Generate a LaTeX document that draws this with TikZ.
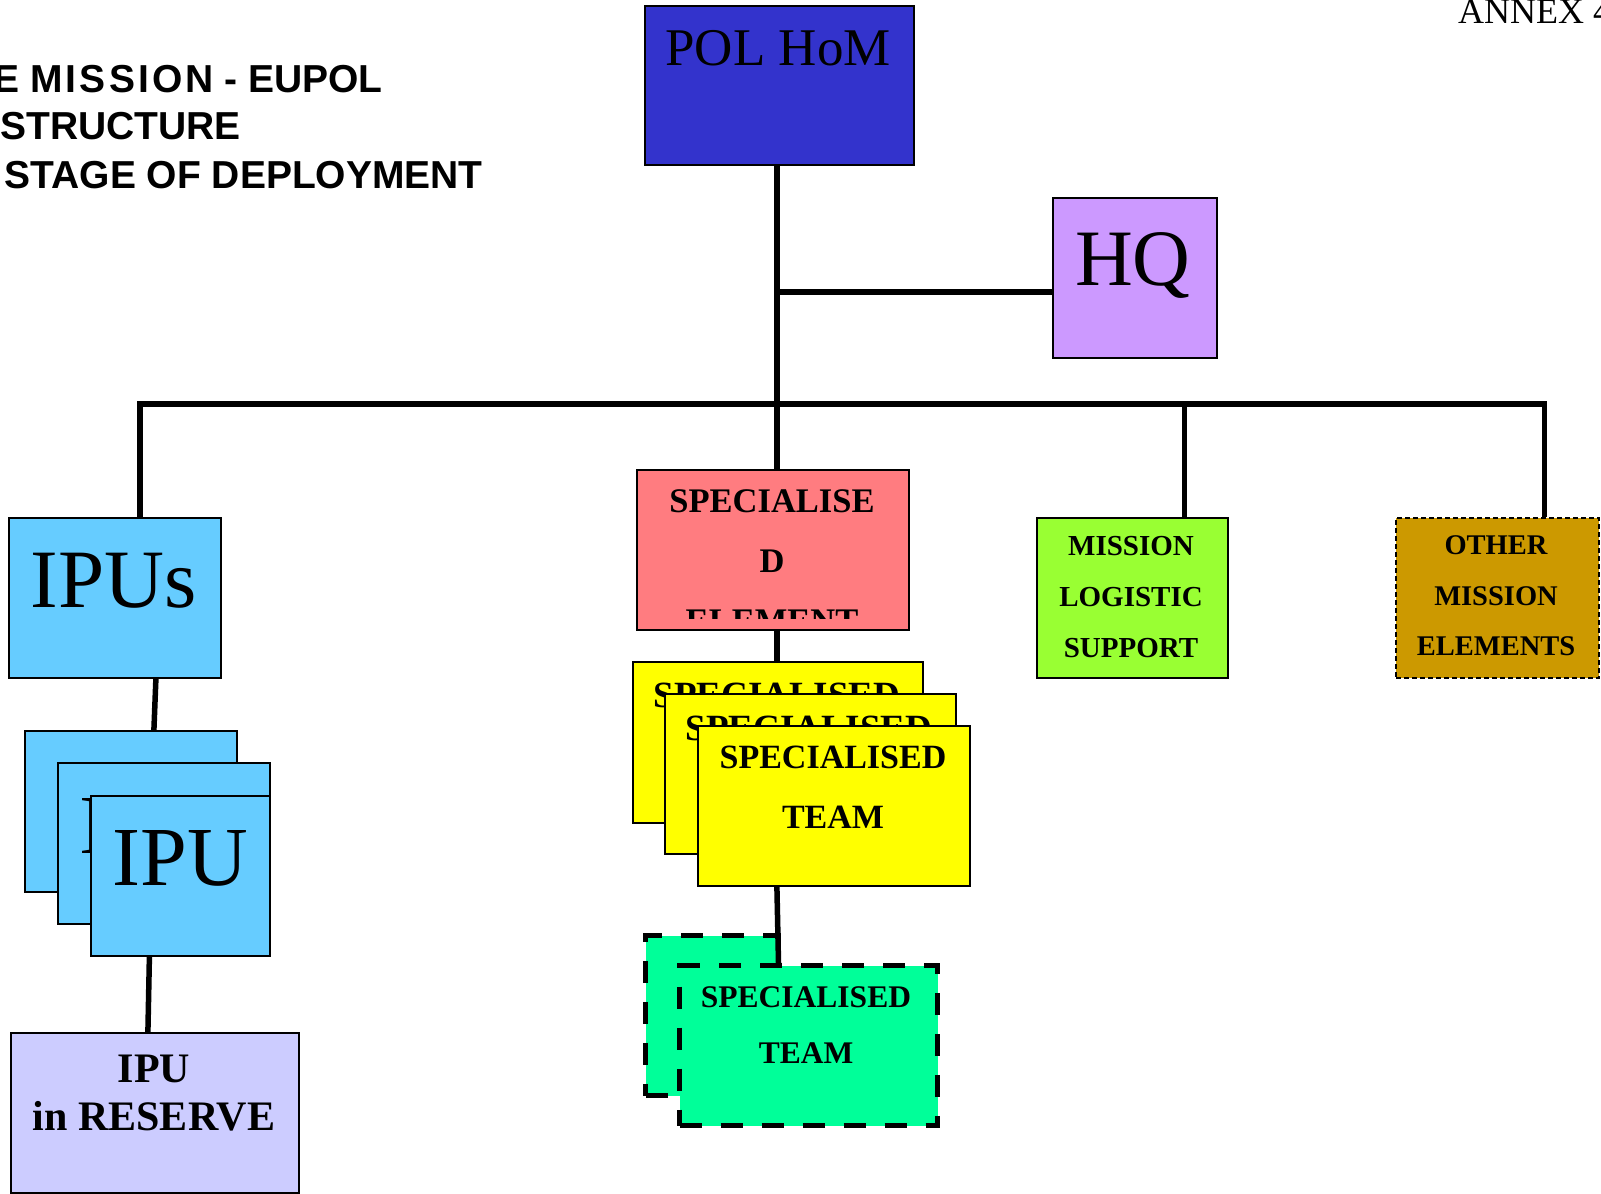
\documentclass[tikz,border=0pt]{standalone}
\usepackage{fontspec}
\setmainfont{Liberation Serif}
\newfontfamily\headfont{Liberation Sans}
\usetikzlibrary{positioning}
\definecolor{homblue}{HTML}{3333CC}
\definecolor{hqlilac}{HTML}{CC99FF}
\definecolor{ipusky}{HTML}{66CCFF}
\definecolor{elsalmon}{HTML}{FF7C80}
\definecolor{teamyel}{HTML}{FFFF00}
\definecolor{teamgrn}{HTML}{00FF99}
\definecolor{loglime}{HTML}{99FF33}
\definecolor{othochre}{HTML}{CC9900}
\definecolor{reslav}{HTML}{CCCCFF}

\begin{document}
\begin{tikzpicture}[x=1pt, y=-1pt,
    unit/.style={draw=black, line width=1.8pt, inner sep=0pt, anchor=north west},
    dashunit/.style={unit, line width=2.2pt, dash pattern=on 5pt off 3pt},
    heavydash/.style={unit, line width=5pt, dash pattern=on 22pt off 19pt},
    link/.style={line width=5.5pt},
    lbl/.style={anchor=base, inner sep=0pt},
    boldsz/.style={font=\fontsize{#1}{#1}\selectfont\bfseries},
    plainsz/.style={font=\fontsize{#1}{#1}\selectfont}]
  \useasboundingbox (0,0) rectangle (1601,1194);
  \clip (0,0) rectangle (1601,1194);
  \fill[white] (0,0) rectangle (1601,1194);

  % heading, cut off at the page edges
  \node[lbl, anchor=base east, font=\headfont\bfseries\fontsize{39}{39}\selectfont] (title1) at (383,92)
    {E {\addfontfeature{LetterSpace=8}MISSION} - EUPOL};
  \node[lbl, anchor=base east, font=\headfont\bfseries\fontsize{39}{39}\selectfont] (title2) at (241,139) {STRUCTURE};
  \node[lbl, anchor=base east, font=\headfont\bfseries\fontsize{39}{39}\selectfont] (title3) at (483,188) {STAGE OF DEPLOYMENT};
  \node[lbl, anchor=base west, plainsz=36] (annex) at (1458,23) {ANNEX 4};

  % top of the tree
  \node[unit, fill=homblue, minimum width=269pt, minimum height=159pt] (hom) at (644,5) {};
  \node[lbl, plainsz=53] (hom-t) at (778,65) {POL HoM};
  \node[unit, fill=hqlilac, minimum width=164pt, minimum height=160pt] (hq) at (1052,197) {};
  \node[lbl, plainsz=80] (hq-t) at (1133,285) {HQ};

  % second row
  \node[unit, fill=ipusky, minimum width=212pt, minimum height=160pt] (ipus) at (8,517) {};
  \node[lbl, plainsz=83] (ipus-t) at (114,607) {IPUs};
  \node[unit, fill=elsalmon, minimum width=272pt, minimum height=160pt] (selem) at (636,469) {};
  \begin{scope}
    \clip (636,469) rectangle (908,618);
    \foreach \t [count=\i] in {SPECIALISE,D,ELEMENT}
      \node[lbl, boldsz=34.5] (selem-\i) at (772,{452+60*\i}) {\t};
  \end{scope}
  \node[unit, fill=loglime, minimum width=191pt, minimum height=160pt] (logist) at (1036,517) {};
  \foreach \t [count=\i] in {MISSION,LOGISTIC,SUPPORT}
    \node[lbl, boldsz=29] (logist-\i) at (1131,{504+51*\i}) {\t};
  \node[dashunit, fill=othochre, minimum width=203pt, minimum height=160pt] (other) at (1395,517) {};
  \foreach \t [count=\i] in {OTHER,MISSION,ELEMENTS}
    \node[lbl, boldsz=28.5] (other-\i) at (1496,{504+50.5*\i}) {\t};

  % stack of IPUs
  \node[unit, fill=ipusky, minimum width=212pt, minimum height=161pt] (ipuA) at (24,730) {};
  \node[unit, fill=ipusky, minimum width=212pt, minimum height=161pt] (ipuB) at (57,762) {};
  \node[lbl, plainsz=84] (ipuB-t) at (147,853) {IPU};
  \node[unit, fill=ipusky, minimum width=179pt, minimum height=160pt] (ipuC) at (90,795) {};
  \node[lbl, plainsz=84] (ipuC-t) at (180,885) {IPU};
  \node[unit, fill=reslav, minimum width=288pt, minimum height=160pt] (reserve) at (10,1032) {};
  \node[lbl, boldsz=42] (reserve-1) at (154,1082) {IPU};
  \node[lbl, boldsz=42] (reserve-2) at (154,1130) {in RESERVE};

  % stack of teams
  \node[unit, fill=teamyel, minimum width=290pt, minimum height=161pt] (yelA) at (632,661) {};
  \node[lbl, boldsz=37] (yelA-t) at (777,707) {SPECIALISED};
  \node[unit, fill=teamyel, minimum width=291pt, minimum height=160pt] (yelB) at (664,693) {};
  \node[lbl, boldsz=37] (yelB-t) at (809,740) {SPECIALISED};
  \node[unit, fill=teamyel, minimum width=272pt, minimum height=160pt] (yelC) at (697,725) {};
  \node[lbl, boldsz=34] (yelC-1) at (833,768) {SPECIALISED};
  \node[lbl, boldsz=34] (yelC-2) at (833,828) {TEAM};
  \node[heavydash, fill=teamgrn, minimum width=133pt, minimum height=160pt] (grnA) at (643,933) {};
  \node[heavydash, fill=teamgrn, minimum width=258pt, minimum height=160pt] (grnB) at (677,963) {};
  \node[lbl, boldsz=31.5] (grnB-1) at (806,1007) {SPECIALISED};
  \node[lbl, boldsz=31.5] (grnB-2) at (806,1063) {TEAM};

  % connectors
  \coordinate (bus) at (776,404);
  \coordinate (trunk) at ([xshift=-2.5pt]hom.south);
  \coordinate (ipus-in) at ([xshift=25pt]ipus.north);
  \coordinate (logist-in) at ([xshift=52pt]logist.north);
  \coordinate (other-in) at ([xshift=47pt]other.north);
  \coordinate (hq-in) at ([yshift=-14pt]hq.west);
  \draw[link] (trunk) -- (trunk |- selem.north);
  \draw[link] (hq-in) -- (hq-in -| trunk);
  \draw[link] (ipus-in) |- (bus) -| (other-in);
  \draw[link] (logist-in) -- (logist-in |- bus);
  \draw[link] ([xshift=41pt]ipus.south) -- ([xshift=23pt]ipuA.north);
  \draw[link] ([xshift=-31pt]ipuC.south) -- ([xshift=-7pt]reserve.north);
  \draw[link] ([xshift=4pt]selem.south) -- ([xshift=-1pt]yelA.north);
  \draw[link] ([xshift=-57pt]yelC.south) -- ([xshift=-30pt]grnB.north);
\end{tikzpicture}
\end{document}
